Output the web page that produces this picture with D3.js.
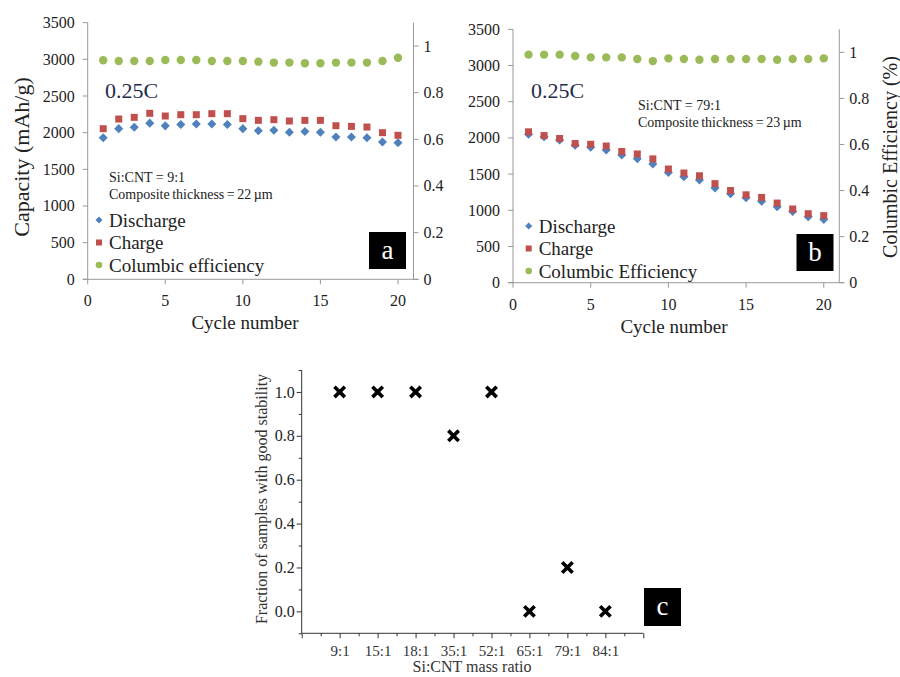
<!DOCTYPE html>
<html>
<head>
<meta charset="utf-8">
<script src="https://cdn.jsdelivr.net/npm/d3@7"></script>
<style>
  body { margin: 0; background: #fff; }
  svg { display: block; font-family: "Liberation Serif", "Times New Roman", serif; }
  .tick-label { fill: #222; font-size: 16px; }
</style>
</head>
<body>
<svg width="900" height="677"></svg>
<script>
// ---- data ----
const cycles = [1, 2, 3, 4, 5, 6, 7, 8, 9, 10, 11, 12, 13, 14, 15, 16, 17, 18, 19, 20];

// panel a : Si:CNT = 9:1
const dischargeA = [1930, 2055, 2073, 2130, 2093, 2112, 2118, 2118, 2111, 2055, 2027, 2034, 2005, 2016, 2007, 1940, 1940, 1930, 1873, 1862];
const chargeA = [2054, 2186, 2209, 2264, 2227, 2245, 2245, 2259, 2259, 2191, 2168, 2177, 2159, 2168, 2168, 2095, 2086, 2077, 2000, 1964];
const ceA = [0.939, 0.936, 0.936, 0.936, 0.940, 0.940, 0.940, 0.936, 0.936, 0.936, 0.933, 0.929, 0.929, 0.926, 0.926, 0.929, 0.929, 0.929, 0.936, 0.950];

// panel b : Si:CNT = 79:1
const dischargeB = [2050, 2017, 1971, 1898, 1870, 1833, 1764, 1713, 1640, 1522, 1465, 1419, 1308, 1230, 1172, 1124, 1050, 985, 912, 875];
const chargeB = [2084, 2032, 1992, 1922, 1912, 1888, 1812, 1778, 1710, 1570, 1515, 1477, 1368, 1273, 1214, 1178, 1100, 1018, 953, 926];
const ceB = [0.990, 0.990, 0.990, 0.984, 0.978, 0.978, 0.978, 0.971, 0.962, 0.974, 0.971, 0.968, 0.971, 0.971, 0.971, 0.971, 0.968, 0.971, 0.971, 0.974];

// panel c
const ratios = ["9:1", "15:1", "18:1", "35:1", "52:1", "65:1", "79:1", "84:1"];
const stableFraction = [1.0, 1.0, 1.0, 0.8, 1.0, 0.0, 0.2, 0.0];

const capTicks = [0, 500, 1000, 1500, 2000, 2500, 3000, 3500];
const ceTicks = [0, 0.2, 0.4, 0.6, 0.8, 1];
const cycleTicks = [0, 5, 10, 15, 20];
const fracTicks = [0, 0.2, 0.4, 0.6, 0.8, 1.0];

const blue = "#4f81bd", red = "#c0504d", green = "#9bbb59";

const svg = d3.select("svg");

// ---- panels a and b ----
function cyclePanel(p) {
  const g = svg.append("g");
  const x = d3.scaleLinear().domain([0, 21]).range([p.x0, p.x1]);
  const y = d3.scaleLinear().domain([0, 3500]).range([p.y0, p.y1]);
  const y2 = d3.scaleLinear().domain([0, 1.1]).range([p.y0, p.y1]);

  // axes lines
  const axisColor = "#999";
  g.append("line").attr("x1", x(0)).attr("x2", x(0)).attr("y1", y(0)).attr("y2", y(3500)).attr("stroke", axisColor);
  g.append("line").attr("x1", x(21)).attr("x2", x(21)).attr("y1", y(0)).attr("y2", y(3500)).attr("stroke", axisColor);
  g.append("line").attr("x1", x(0) - 5).attr("x2", x(21) + 5).attr("y1", y(0)).attr("y2", y(0)).attr("stroke", axisColor);

  // left ticks
  g.selectAll(".lt").data(capTicks).enter().append("line")
    .attr("x1", x(0) - 5).attr("x2", x(0))
    .attr("y1", d => y(d)).attr("y2", d => y(d)).attr("stroke", axisColor);
  g.selectAll(".ll").data(capTicks).enter().append("text")
    .attr("class", "tick-label").attr("text-anchor", "end")
    .attr("x", x(0) - 13).attr("y", d => y(d) + 5.5).text(d => d);

  // right ticks
  g.selectAll(".rt").data(ceTicks).enter().append("line")
    .attr("x1", x(21)).attr("x2", x(21) + 5)
    .attr("y1", d => y2(d)).attr("y2", d => y2(d)).attr("stroke", axisColor);
  g.selectAll(".rl").data(ceTicks).enter().append("text")
    .attr("class", "tick-label")
    .attr("x", x(21) + 10).attr("y", d => y2(d) + 5.5).text(d => d);

  // bottom ticks
  g.selectAll(".bt").data(cycleTicks).enter().append("line")
    .attr("x1", d => x(d)).attr("x2", d => x(d))
    .attr("y1", y(0)).attr("y2", y(0) + 5).attr("stroke", axisColor);
  g.selectAll(".bl").data(cycleTicks).enter().append("text")
    .attr("class", "tick-label").attr("text-anchor", "middle")
    .attr("x", d => x(d)).attr("y", y(0) + 27).text(d => d);

  g.append("text").attr("x", p.xTitleX).attr("y", y(0) + 50)
    .attr("text-anchor", "middle").style("font-size", "19px").attr("fill", "#222")
    .text("Cycle number");

  // series
  g.selectAll(".ce").data(p.ce).enter().append("circle")
    .attr("cx", (d, i) => x(cycles[i])).attr("cy", d => y2(d)).attr("r", 4.2).attr("fill", green);
  g.selectAll(".dis").data(p.dis).enter().append("rect")
    .attr("x", -3.2).attr("y", -3.2).attr("width", 6.4).attr("height", 6.4)
    .attr("transform", (d, i) => `translate(${x(cycles[i])},${y(d)}) rotate(45)`)
    .attr("fill", blue);
  g.selectAll(".chg").data(p.chg).enter().append("rect")
    .attr("x", (d, i) => x(cycles[i]) - 3.5).attr("y", d => y(d) - 3.5)
    .attr("width", 7).attr("height", 7).attr("fill", red);

  // rate
  g.append("text").attr("x", p.rateX).attr("y", 98)
    .style("font-size", "22px").attr("fill", "#1f2d4d").text("0.25C");

  // composition note
  g.append("text").attr("x", p.noteX).attr("y", p.noteY)
    .style("font-size", "14px").attr("fill", "#222").text(p.ratio);
  g.append("text").attr("x", p.noteX).attr("y", p.noteY + 17)
    .style("font-size", "14px").attr("fill", "#222").attr("word-spacing", "-1px").text(p.thick);

  // legend
  const legend = [
    { name: "Discharge", c: blue, s: "d" },
    { name: "Charge", c: red, s: "s" },
    { name: p.ceName, c: green, s: "c" }
  ];
  const lg = g.selectAll(".leg").data(legend).enter().append("g")
    .attr("transform", (d, i) => `translate(${p.legX},${p.legY + i * 22.5})`);
  lg.each(function (d) {
    const s = d3.select(this);
    if (d.s === "d") s.append("rect").attr("x", -2.5).attr("y", -2.5).attr("width", 5).attr("height", 5)
      .attr("transform", "rotate(45)").attr("fill", d.c);
    else if (d.s === "s") s.append("rect").attr("x", -3).attr("y", -3).attr("width", 6).attr("height", 6).attr("fill", d.c);
    else s.append("circle").attr("r", 3.3).attr("fill", d.c);
  });
  lg.append("text").attr("x", 10).attr("y", 6.5)
    .style("font-size", "19px").attr("fill", "#222").text(d => d.name);

  // panel letter
  g.append("rect").attr("x", p.box[0]).attr("y", p.box[1]).attr("width", 37).attr("height", 37).attr("fill", "#000");
  g.append("text").attr("x", p.box[0] + 18.5).attr("y", p.box[1] + 27)
    .attr("text-anchor", "middle").style("font-size", "27px").attr("fill", "#fff").text(p.letter);

  return { x, y, y2 };
}

cyclePanel({
  x0: 87.7, x1: 413.5, y0: 279.3, y1: 22.7,
  dis: dischargeA, chg: chargeA, ce: ceA,
  xTitleX: 245, rateX: 105, noteX: 109, noteY: 182,
  ratio: "Si:CNT = 9:1", thick: "Composite thickness = 22 \u00b5m",
  ceName: "Columbic efficiency", legX: 99, legY: 220,
  box: [369, 232], letter: "a"
});
svg.append("text")
  .attr("transform", "translate(29,157) rotate(-90)")
  .attr("text-anchor", "middle").style("font-size", "22px").attr("fill", "#222")
  .text("Capacity (mAh/g)");

cyclePanel({
  x0: 513, x1: 839.3, y0: 282.7, y1: 29.3,
  dis: dischargeB, chg: chargeB, ce: ceB,
  xTitleX: 674, rateX: 531, noteX: 638, noteY: 110,
  ratio: "Si:CNT = 79:1", thick: "Composite thickness = 23 \u00b5m",
  ceName: "Columbic Efficiency", legX: 528.7, legY: 226,
  box: [796.5, 234], letter: "b"
});
svg.append("text")
  .attr("transform", "translate(897,157) rotate(-90)")
  .attr("text-anchor", "middle").style("font-size", "20px").attr("fill", "#222")
  .text("Columbic Efficiency (%)");

// ---- panel c ----
const gc = svg.append("g");
const xc = d3.scaleLinear().domain([0, 9]).range([301.7, 643.3]);
const yc = d3.scaleLinear().domain([-0.1, 1.1]).range([633.3, 370]);
const axisC = "#333";

gc.append("line").attr("x1", xc(0)).attr("x2", xc(0)).attr("y1", yc(-0.1)).attr("y2", yc(1.1)).attr("stroke", axisC);
gc.append("line").attr("x1", xc(0)).attr("x2", xc(9)).attr("y1", yc(-0.1)).attr("y2", yc(-0.1)).attr("stroke", axisC);

const yAxisC = d3.axisLeft(yc).tickValues(fracTicks).tickSize(5).tickFormat(d3.format(".1f"));
const yg = gc.append("g").attr("transform", `translate(${xc(0)},0)`).call(yAxisC);
yg.select(".domain").remove();
yg.selectAll("line").attr("stroke", axisC);
yg.selectAll("text").attr("class", "tick-label").style("font-family", "Liberation Serif").style("font-size", "16px").attr("x", -7).attr("fill", "#333");
const yMinor = d3.axisLeft(yc).tickValues(d3.range(-0.1, 1.15, 0.2)).tickSize(3).tickFormat("");
const ym = gc.append("g").attr("transform", `translate(${xc(0)},0)`).call(yMinor);
ym.select(".domain").remove();
ym.selectAll("line").attr("stroke", axisC);

const xAxisC = d3.axisBottom(xc).tickValues(d3.range(0, 10)).tickSize(5)
  .tickFormat(d => (d >= 1 && d <= 8 ? ratios[d - 1] : ""));
const xg = gc.append("g").attr("transform", `translate(0,${yc(-0.1)})`).call(xAxisC);
xg.select(".domain").remove();
xg.selectAll("line").attr("stroke", axisC);
xg.selectAll("text").style("font-family", "Liberation Serif").style("font-size", "15px").attr("y", 12).attr("fill", "#333");
const xMinor = d3.axisBottom(xc).tickValues(d3.range(0.5, 9, 1)).tickSize(3).tickFormat("");
const xm = gc.append("g").attr("transform", `translate(0,${yc(-0.1)})`).call(xMinor);
xm.select(".domain").remove();
xm.selectAll("line").attr("stroke", axisC);

const cross = 5.2;
gc.selectAll(".x").data(stableFraction).enter().append("path")
  .attr("d", (d, i) => {
    const cx = xc(i + 1), cy = yc(d);
    return `M${cx - cross},${cy - cross}L${cx + cross},${cy + cross}M${cx - cross},${cy + cross}L${cx + cross},${cy - cross}`;
  })
  .attr("stroke", "#000").attr("stroke-width", 3.6).attr("fill", "none");

gc.append("text").attr("x", 472).attr("y", 672)
  .attr("text-anchor", "middle").style("font-size", "16px").attr("fill", "#333")
  .text("Si:CNT mass ratio");
gc.append("text")
  .attr("transform", "translate(267,499) rotate(-90)")
  .attr("text-anchor", "middle").style("font-size", "16px").attr("fill", "#333")
  .text("Fraction of samples with good stability");

gc.append("rect").attr("x", 644).attr("y", 588).attr("width", 37).attr("height", 38).attr("fill", "#000");
gc.append("text").attr("x", 662.5).attr("y", 615)
  .attr("text-anchor", "middle").style("font-size", "27px").attr("fill", "#fff").text("c");
</script>
</body>
</html>
